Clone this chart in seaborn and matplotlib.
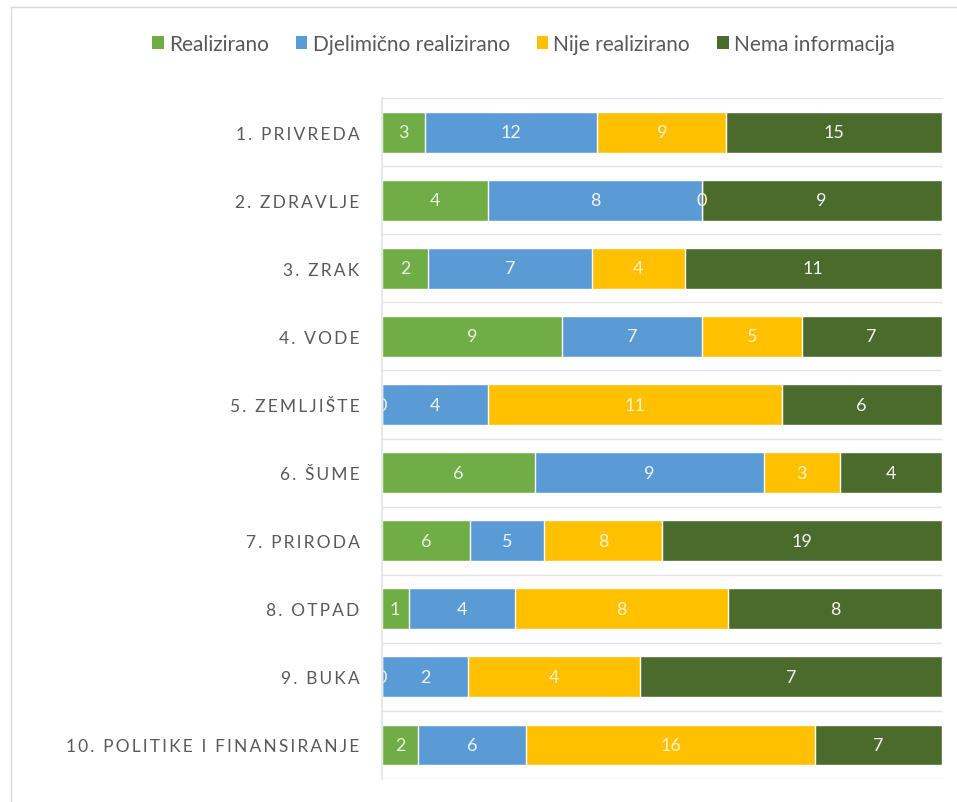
"""
100% stacked horizontal bars - realizacija mjera po oblastima
"""
import numpy as np
import pandas as pd
import matplotlib
matplotlib.use('Agg')
import matplotlib.pyplot as plt
from matplotlib.patches import Patch, Rectangle
import seaborn as sns

categories = ['1. PRIVREDA', '2. ZDRAVLJE', '3. ZRAK', '4. VODE', '5. ZEMLJIŠTE',
              '6. ŠUME', '7. PRIRODA', '8. OTPAD', '9. BUKA',
              '10. POLITIKE I FINANSIRANJE']
series_names = ['Realizirano', 'Djelimično realizirano', 'Nije realizirano', 'Nema informacija']
realizirano = [3, 4, 2, 9, 0, 6, 6, 1, 0, 2]
djelimicno = [12, 8, 7, 7, 4, 9, 5, 4, 2, 6]
nije = [9, 0, 4, 5, 11, 3, 8, 8, 4, 16]
nema_info = [15, 9, 11, 7, 6, 4, 19, 8, 7, 7]

colors = ['#70AD47', '#5B9BD5', '#FFC000', '#4B6B2C']
label_colors = ['#E8F2DF', '#EEF4FB', '#FFF3C8', '#F2F2F2']

sns.set_theme(style='white')
plt.rcParams['font.family'] = ['Lato', 'DejaVu Sans']


def spaced(s):
    # imitate the letter spacing of the axis labels
    return '\u2009'.join(list(s))


df = pd.DataFrame({'kategorija': categories,
                   series_names[0]: realizirano,
                   series_names[1]: djelimicno,
                   series_names[2]: nije,
                   series_names[3]: nema_info})
vals = df[series_names].to_numpy(dtype=float)
totals = vals.sum(axis=1, keepdims=True)
pct = vals / totals * 100
cum = np.cumsum(pct, axis=1)

fig = plt.figure(figsize=(9.57, 8.03), dpi=100)
ax = fig.add_axes([0.399, 0.0286, 0.585, 0.848])

# draw layers from full stack down so each segment shows its own colour
for j in range(len(series_names) - 1, -1, -1):
    sns.barplot(x=cum[:, j], y=df['kategorija'], orient='h', color=colors[j],
                width=0.6, saturation=1, ax=ax)

for i in range(len(categories)):
    for j in range(len(series_names)):
        centre = cum[i, j] - pct[i, j] / 2
        ax.text(centre, i, str(int(vals[i, j])), ha='center', va='center',
                fontsize=13, color=label_colors[j], clip_on=True)

for b in np.arange(-0.5, len(categories), 1.0):
    ax.axhline(b, color='#E4E4E4', lw=1, zorder=0)

ax.set_xlim(0, 100)
ax.set_ylim(len(categories) - 0.5, -0.5)
ax.set_xlabel('')
ax.set_ylabel('')
ax.set_xticks([])
ax.set_yticks(range(len(categories)))
ax.set_yticklabels([spaced(c) for c in categories], fontsize=12.5, color='#595959')
ax.tick_params(axis='y', length=0, pad=16)
for s in ['top', 'right', 'bottom']:
    ax.spines[s].set_visible(False)
ax.spines['left'].set_color('#E4E4E4')

handles = [Patch(facecolor=c, edgecolor='none') for c in colors]
fig.legend(handles, series_names, loc='center', bbox_to_anchor=(0.547, 0.944),
           ncol=4, frameon=False, fontsize=15, handlelength=0.55, handleheight=0.55,
           handletextpad=0.25, columnspacing=1.3, labelcolor='#595959')

fig.patches.append(Rectangle((0.011, -0.01), 1.0, 1.0, transform=fig.transFigure,
                             fill=False, edgecolor='#D9D9D9', lw=1))

fig.savefig('out.png', dpi=100)
